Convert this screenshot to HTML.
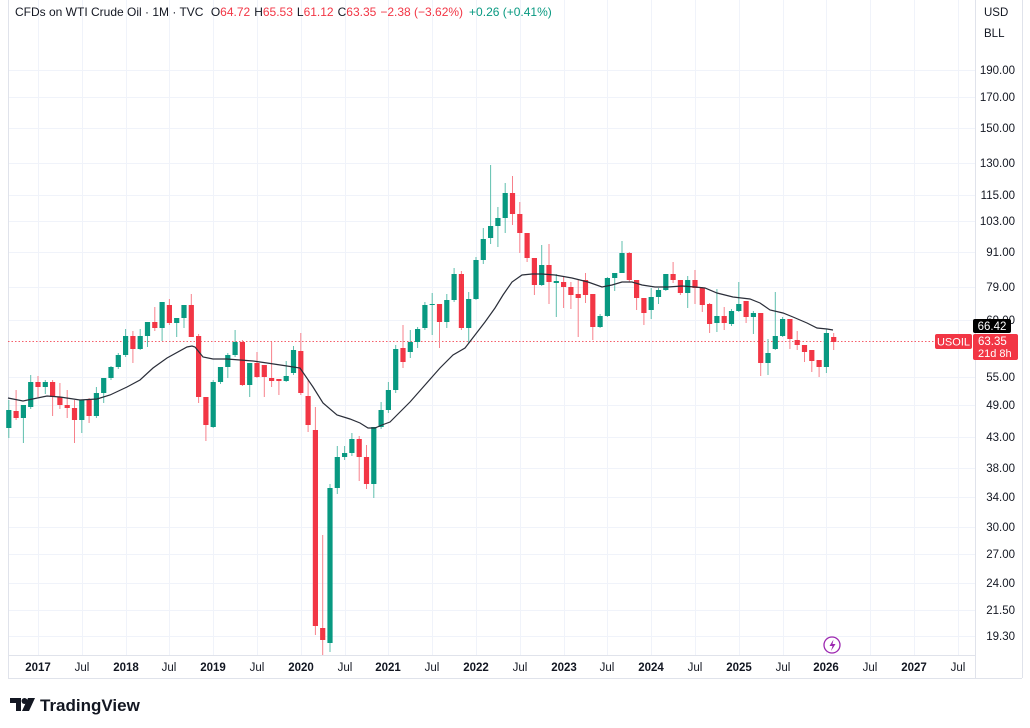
<!DOCTYPE html>
<html><head><meta charset="utf-8"><style>
html,body{margin:0;padding:0;background:#fff;width:1030px;height:728px;overflow:hidden}
svg{display:block;font-family:"Liberation Sans",sans-serif}
</style></head><body>
<svg id="s" width="1030" height="728" viewBox="0 0 1030 728" xmlns="http://www.w3.org/2000/svg">
<rect width="1030" height="728" fill="#fff"/>
<g id="grid" stroke="#f0f3fa" stroke-width="1"></g>
<line x1="8.5" y1="0" x2="8.5" y2="678" stroke="#e0e3eb"/>
<line x1="975.5" y1="0" x2="975.5" y2="678" stroke="#e0e3eb"/>
<line x1="8" y1="655.5" x2="975" y2="655.5" stroke="#e0e3eb"/>
<line x1="8" y1="678.5" x2="1022" y2="678.5" stroke="#e0e3eb"/>
<line x1="1022.5" y1="0" x2="1022.5" y2="678" stroke="#e0e3eb"/>
<line x1="8" y1="341.5" x2="975" y2="341.5" stroke="#F23645" stroke-opacity="0.8" stroke-width="1" stroke-dasharray="1.5,2"/>
<g id="candles"></g>
<polyline id="ma" fill="none" stroke="#2a2e39" stroke-width="1.2"/>
<g id="plabels" font-size="11.5" fill="#131722" text-anchor="end"></g>
<g id="tlabels" font-size="11.5" fill="#131722" text-anchor="middle"></g>
<text x="15" y="16" font-size="12" fill="#131722">CFDs on WTI Crude Oil · 1M · TVC <tspan dx="4">O</tspan><tspan fill="#F23645">64.72</tspan><tspan dx="4">H</tspan><tspan fill="#F23645">65.53</tspan><tspan dx="4">L</tspan><tspan fill="#F23645">61.12</tspan><tspan dx="4">C</tspan><tspan fill="#F23645">63.35</tspan><tspan dx="4" fill="#F23645">−2.38 (−3.62%)</tspan><tspan dx="6" fill="#089981">+0.26 (+0.41%)</tspan></text>
<text x="984" y="16" font-size="11.5" fill="#131722">USD</text>
<text x="984" y="37" font-size="11.5" fill="#131722">BLL</text>
<rect x="973" y="319" width="38" height="14" rx="2" fill="#000"/>
<text x="992" y="330" font-size="11.5" fill="#fff" text-anchor="middle">66.42</text>
<rect x="935" y="334" width="37" height="15" rx="2" fill="#F23645"/>
<text x="953.5" y="345.5" font-size="11" fill="#fff" text-anchor="middle">USOIL</text>
<rect x="973" y="334" width="45" height="26" rx="2" fill="#F23645"/>
<text x="978" y="345" font-size="11.5" fill="#fff">63.35</text>
<text x="978" y="357" font-size="11" fill="#fff">21d 8h</text>
<circle cx="832" cy="645" r="8" fill="#fff" stroke="#9c27b0" stroke-width="1.3"/>
<path d="M833.5 639.5 L829.5 646 L832.5 646 L831 651 L835.5 644 L832.5 644 Z" fill="#9c27b0"/>
<g transform="translate(10,696)">
<path d="M0 2 H11 V15 H6 V7 H0 Z" fill="#131722"/>
<circle cx="14.5" cy="5" r="3" fill="#131722"/>
<path d="M18 2 H25 L19 15 H12 Z" fill="#131722"/>
<text x="30" y="15" font-size="17" font-weight="bold" fill="#131722">TradingView</text>
</g>
</svg>
<script>
const NS="http://www.w3.org/2000/svg";
function el(p,t,a,txt){const e=document.createElementNS(NS,t);for(const k in a)e.setAttribute(k,a[k]);if(txt!==undefined)e.textContent=txt;p.appendChild(e);return e;}
const grid=document.getElementById('grid');
const P=[["190.00",70],["170.00",97],["150.00",128],["130.00",163],["115.00",195],["103.00",221],["91.00",252],["79.00",287],["69.00",320],["55.00",377],["49.00",405],["43.00",437],["38.00",468],["34.00",497],["30.00",527],["27.00",554],["24.00",583],["21.50",610],["19.30",636]];
const pl=document.getElementById('plabels');
P.forEach(([t,y])=>{el(grid,'line',{x1:8,x2:975,y1:y+.5,y2:y+.5});el(pl,'text',{x:1015,y:y+4},t);});
const T=["2017","Jul","2018","Jul","2019","Jul","2020","Jul","2021","Jul","2022","Jul","2023","Jul","2024","Jul","2025","Jul","2026","Jul","2027","Jul"];
const tl=document.getElementById('tlabels');
T.forEach((t,i)=>{const x=Math.round(38+i*43.8);el(grid,'line',{x1:x+.5,x2:x+.5,y1:0,y2:655});const a={x:x,y:671};if(t!=="Jul")a['font-weight']='bold';el(tl,'text',a,t);});
const C=[
["G",410,428,400,438],["R",411,418,390,420],["G",405,418,405,443],["G",382,407,375,409],
["R",382,387,376,397],["G",382,387,380,394],["R",382,397,380,416],["R",397,405,383,409],["R",405,408,390,418],["R",408,420,400,443],["G",400,420,400,433],["R",400,416,398,423],["G",393,416,387,418],["G",378,393,378,403],["G",367,378,366,380],["G",355,367,353,369],
["G",336,355,329,357],["R",336,349,331,363],["G",336,349,329,350],["G",322,336,322,347],["R",322,328,307,331],["G",302,328,302,341],["R",305,323,299,325],["G",318,323,318,337],["G",305,318,305,328],["R",305,337,294,337],["R",336,397,334,403],["R",397,425,397,441],
["G",382,427,380,428],["G",367,382,367,384],["G",355,367,353,378],["G",342,355,330,357],["R",342,385,340,386],["G",363,385,363,397],["R",363,377,352,378],["R",365,377,365,397],["R",378,381,342,387],["R",379,381,379,395],["G",376,381,361,382],["G",350,373,346,375],
["R",351,393,333,395],["R",396,425,380,432],["R",430,626,407,635],["R",628,640,535,655],["G",488,643,484,652],["G",457,488,446,494],["G",453,457,446,460],["G",439,453,433,456],["R",439,457,436,481],["R",457,484,445,489],["G",427,484,427,498],["G",410,427,402,429],
["G",390,410,382,413],["G",349,390,345,393],["R",348,362,325,368],["G",342,352,330,358],["G",329,342,327,348],["G",305,328,302,330],["G",304,305,293,335],["R",304,322,304,348],["G",300,322,294,328],["G",274,300,268,302],["R",274,328,271,330],["G",299,328,292,343],
["G",260,299,257,300],["G",239,260,228,264],["G",226,238,165,244],["G",218,226,207,247],["G",193,218,183,233],["R",193,214,176,225],["R",214,233,202,253],["R",233,258,233,262],["R",258,285,258,295],["G",265,285,245,286],["R",265,282,244,304],["G",281,283,274,317],
["R",282,287,277,308],["R",287,295,282,309],["R",294,298,280,337],["R",280,295,273,303],["R",294,327,294,340],["G",316,327,314,328],["G",278,316,277,317],["G",273,278,273,291],["G",253,273,241,273],["R",253,280,252,282],["R",280,298,280,310],["R",298,313,298,325],
["G",297,310,288,319],["G",290,297,288,304],["G",274,290,274,291],["R",274,280,262,283],["R",280,293,280,295],["G",280,293,276,308],["R",280,288,270,304],["R",288,305,287,312],["R",304,324,303,333],["G",316,323,289,332],["R",316,323,307,330],["G",311,324,309,326],
["G",304,311,282,312],["R",301,317,301,323],["G",313,317,311,334],["R",313,363,313,376],["G",353,363,339,375],["G",336,349,292,350],["G",319,336,317,337],["R",319,339,319,349],["R",340,345,331,350],["R",345,352,345,362],["R",350,361,350,372],["R",360,367,360,377],
["G",333,367,329,373],["R",337,342,333,350]];
const cg=document.getElementById('candles');
C.forEach((c,i)=>{const m=i-4;const x=38+7.3*m;const col=c[0]=="G"?"#089981":"#F23645";const wc=c[0]=="G"?"#5fbfae":"#f7818b";
el(cg,'line',{x1:x,x2:x,y1:c[3],y2:c[4],stroke:wc,'stroke-width':1});
el(cg,'rect',{x:x-2.6,y:c[1],width:5.2,height:Math.max(1,c[2]-c[1]),fill:col});});
const MA=[[8,398],[23,401],[47,396],[60,397],[80,400],[97,399],[110,395],[127,387],[140,380],[153,368],[167,358],[187,347],[192,346],[195,347],[203,357],[213,359],[227,359],[240,360],[253,361],[267,363],[287,366],[300,368],[313,387],[323,403],[337,415],[350,419],[360,423],[368,428],[375,428],[382,425],[390,422],[400,412],[410,402],[425,385],[440,368],[453,355],[465,348],[475,335],[485,322],[495,308],[503,295],[512,282],[522,275],[532,274],[542,274],[555,275],[572,278],[588,282],[602,287],[612,285],[622,282],[632,282],[642,285],[655,287],[668,287],[682,286],[695,287],[705,288],[717,293],[733,297],[750,299],[760,303],[770,310],[783,313],[793,317],[807,323],[817,328],[827,329],[833,330]];
document.getElementById('ma').setAttribute('points',MA.map(p=>p.join(',')).join(' '));
</script>
</body></html>
